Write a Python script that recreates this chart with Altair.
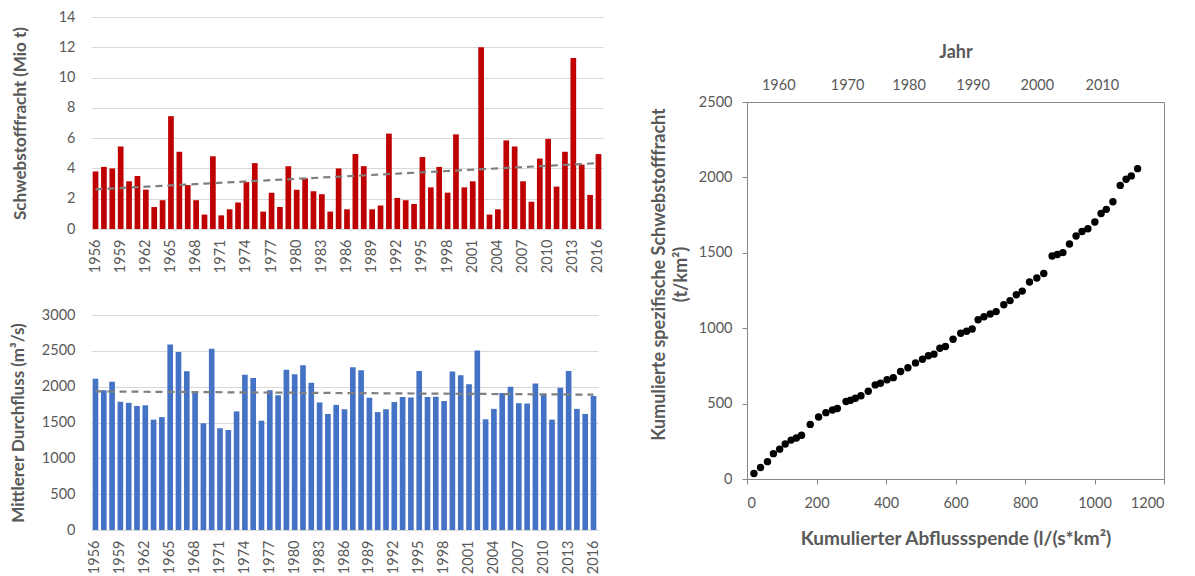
import altair as alt
import pandas as pd

# ---------------- data ----------------
years = list(range(1956, 2017))

# Schwebstofffracht (Mio t)
fracht = [3.8, 4.1, 4.0, 5.45, 3.15, 3.5, 2.6, 1.45, 1.9, 7.45,
          5.1, 2.9, 1.9, 0.95, 4.8, 0.9, 1.3, 1.75, 3.1, 4.35,
          1.15, 2.4, 1.45, 4.15, 2.6, 3.35, 2.5, 2.3, 1.15, 4.0,
          1.3, 4.95, 4.15, 1.3, 1.55, 6.3, 2.05, 1.9, 1.65, 4.75,
          2.75, 4.1, 2.4, 6.25, 2.75, 3.15, 12.0, 0.95, 1.3, 5.85,
          5.45, 3.15, 1.8, 4.65, 5.95, 2.8, 5.1, 11.3, 4.25, 2.25, 4.95]

# Mittlerer Durchfluss (m³/s)
durchfluss = [2110, 1950, 2070, 1790, 1775, 1730, 1740, 1540, 1575, 2590,
              2485, 2215, 1920, 1490, 2530, 1420, 1395, 1655, 2165, 2120,
              1525, 1950, 1880, 2235, 2175, 2300, 2055, 1780, 1620, 1745,
              1685, 2270, 2230, 1845, 1645, 1685, 1785, 1855, 1850, 2220,
              1855, 1860, 1800, 2210, 2160, 2035, 2505, 1545, 1690, 1910,
              2000, 1770, 1765, 2045, 1895, 1540, 1985, 2220, 1690, 1620, 1870]

# Kumulierte Abflussspende (l/(s*km²)) and kumulierte spez. Schwebstofffracht (t/km²)
cum_abfluss = [20, 39, 59, 76, 94, 110, 127, 142, 157, 182,
               206, 227, 246, 260, 285, 298, 312, 328, 349, 369,
               384, 403, 421, 442, 463, 485, 505, 522, 538, 555,
               571, 593, 615, 632, 648, 665, 682, 700, 717, 739,
               757, 775, 792, 813, 834, 854, 878, 893, 909, 928,
               947, 964, 981, 1001, 1019, 1034, 1053, 1074, 1091, 1106, 1124]
cum_fracht = [37, 76, 115, 168, 198, 232, 258, 272, 290, 362,
              411, 440, 458, 467, 514, 522, 535, 552, 582, 624,
              635, 658, 672, 713, 738, 770, 794, 817, 828, 867,
              879, 927, 967, 980, 995, 1056, 1076, 1094, 1110, 1156,
              1183, 1222, 1246, 1306, 1333, 1363, 1479, 1489, 1501, 1558,
              1611, 1641, 1659, 1704, 1761, 1788, 1838, 1947, 1988, 2010, 2058]

# secondary (top) axis: year labels at cumulative positions
jahr_labels = ["1960", "1970", "1980", "1990", "2000", "2010"]
jahr_pos = [90, 288, 465, 649, 834, 1021]

year_ticks = years[::3]
fracht_ticks = [0, 2, 4, 6, 8, 10, 12, 14]
q_ticks = [0, 500, 1000, 1500, 2000, 2500, 3000]
sc_x_ticks = [0, 200, 400, 600, 800, 1000, 1200]
sc_y_ticks = [0, 500, 1000, 1500, 2000, 2500]

df = pd.DataFrame({"Jahr": years, "Fracht": fracht, "Q": durchfluss})
sc = pd.DataFrame({"x": cum_abfluss, "y": cum_fracht})

FONT = "Lato"
GRAY = "#595959"
GRID = "#d9d9d9"
FRAME = "#868686"
LABEL_SIZE = 14.5


def bar_panel(field, color, ytitle, ydomain, yticks, width, height, titlepad):
    base = alt.Chart(df)
    xaxis = alt.Axis(values=year_ticks, labelAngle=270, labelAlign="right",
                     labelBaseline="middle", labelFontSize=LABEL_SIZE, labelColor=GRAY,
                     labelPadding=10, ticks=False, domainColor=GRID, grid=False,
                     title=None, labelFont=FONT, labelOverlap=False)
    yaxis = alt.Axis(values=yticks, format="d", grid=True, gridColor=GRID, domain=False,
                     ticks=False, labelPadding=16, labelFontSize=LABEL_SIZE, labelColor=GRAY,
                     labelFont=FONT, labelOverlap=False,
                     title=ytitle, titleFontSize=17, titleFontWeight="bold",
                     titleColor=GRAY, titleFont=FONT, titlePadding=titlepad)
    xscale = alt.Scale(paddingInner=0.32, paddingOuter=0.2)
    yscale = alt.Scale(domain=ydomain, nice=False)
    x_enc = alt.X("Jahr:O", scale=xscale, axis=xaxis)
    y_enc = alt.Y(f"{field}:Q", scale=yscale, axis=yaxis)
    bars = base.mark_bar(color=color).encode(x=x_enc, y=y_enc)
    trend = base.transform_regression("Jahr", field).mark_line(
        color="#7f7f7f", strokeWidth=2.2, strokeDash=[7, 5]
    ).encode(x=x_enc, y=y_enc)
    return alt.layer(bars, trend).properties(width=width, height=height)


top_chart = bar_panel("Fracht", "#c00000", "Schwebstofffracht (Mio t)", [0, 14],
                      fracht_ticks, 512, 212, 29)
bottom_chart = bar_panel("Q", "#4472c4", "Mittlerer Durchfluss (m³/s)", [0, 3000],
                         q_ticks, 507, 215, 14)

left = alt.concat(top_chart, bottom_chart, columns=1, spacing=32)

# ---------------- scatter ----------------
pts = alt.Chart(sc).mark_circle(size=55, color="black", opacity=1).encode(
    x=alt.X("x:Q", scale=alt.Scale(domain=[0, 1200], nice=False),
            axis=alt.Axis(values=sc_x_ticks, format="d", orient="bottom", grid=False,
                          domainColor=FRAME, tickColor=FRAME, tickSize=5, labelOverlap=False,
                          labelFontSize=LABEL_SIZE, labelColor=GRAY, labelFont=FONT,
                          labelPadding=12,
                          title="Kumulierter Abflussspende (l/(s*km²)", titleFontSize=19,
                          titleFontWeight="bold", titleColor=GRAY, titleFont=FONT,
                          titlePadding=20)),
    y=alt.Y("y:Q", scale=alt.Scale(domain=[0, 2500], nice=False),
            axis=alt.Axis(values=sc_y_ticks, format="d", grid=False, domainColor=FRAME,
                          tickColor=FRAME, tickSize=5, labelFontSize=LABEL_SIZE,
                          labelColor=GRAY, labelFont=FONT, labelPadding=10,
                          labelOverlap=False,
                          title=["Kumulierte spezifische Schwebstofffracht", "(t/km²)"],
                          titleFontSize=18, titleFontWeight="bold", titleColor=GRAY,
                          titleFont=FONT, titleLineHeight=22, titlePadding=8,
                          titleY=172)),
)

lab_arr = "[" + ",".join(f"'{l}'" for l in jahr_labels) + "]"
pos_arr = "[" + ",".join(str(p) for p in jahr_pos) + "]"
top_axis_layer = alt.Chart(sc).mark_circle(opacity=0).encode(
    x=alt.X("x:Q", axis=alt.Axis(orient="top", values=jahr_pos,
                                 labelExpr=f"{lab_arr}[indexof({pos_arr}, datum.value)]",
                                 ticks=False, domain=False, grid=False, labelOverlap=False,
                                 labelFontSize=LABEL_SIZE, labelColor=GRAY, labelFont=FONT,
                                 labelPadding=10, title="Jahr", titleFontSize=18,
                                 titleFontWeight="bold", titleColor=GRAY, titleFont=FONT,
                                 titlePadding=16)),
    y=alt.Y("y:Q"),
)

right = alt.layer(pts, top_axis_layer).resolve_axis(x="independent").properties(
    width=417, height=377,
    view=alt.ViewBackground(stroke=FRAME, strokeWidth=1),
)

# invisible cell that fixes the vertical offset of the scatter panel
dummy = alt.Chart(alt.Data(values=[{"a": 1}])).mark_rule(opacity=0).encode(
    x=alt.value(0), y=alt.value(0), y2=alt.value(1)
).properties(width=417, height=1)

right_col = alt.concat(dummy, right, columns=1, spacing=23)

chart = alt.concat(left, right_col, columns=2, spacing=44).properties(
    padding={"left": 0, "top": 0, "right": 5, "bottom": 0}
).configure(font=FONT).configure_view(stroke="transparent")

chart.save("out.html", embed_options={"renderer": "svg", "actions": False})
